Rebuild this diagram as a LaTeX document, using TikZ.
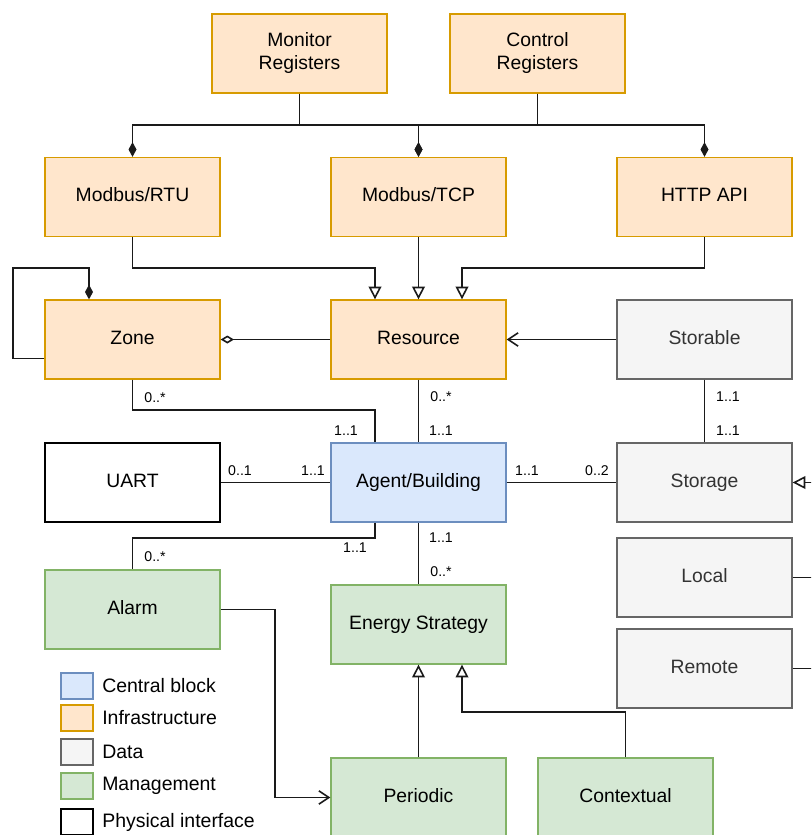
\documentclass[tikz,border=0pt]{standalone}
\usepackage{fontspec}
\setmainfont{Liberation Sans}
\usetikzlibrary{arrows.meta,calc}

\definecolor{infraFill}{HTML}{FFE6CC}\definecolor{infraLine}{HTML}{D79B00}
\definecolor{coreFill}{HTML}{DAE8FC}\definecolor{coreLine}{HTML}{6C8EBF}
\definecolor{dataFill}{HTML}{F5F5F5}\definecolor{dataLine}{HTML}{666666}\definecolor{dataText}{HTML}{333333}
\definecolor{mgmtFill}{HTML}{D5E8D4}\definecolor{mgmtLine}{HTML}{82B366}
\definecolor{wire}{HTML}{1A1A1A}

\begin{document}
\begin{tikzpicture}[x=0.75pt,y=-0.75pt,
  box/.style={rectangle, minimum width=131.25pt, minimum height=59.25pt, inner sep=0pt,
    line width=1pt, align=center, text depth=3.1pt, font=\fontsize{14.5}{17.25}\selectfont},
  infra/.style={box, fill=infraFill, draw=infraLine},
  core/.style={box, fill=coreFill, draw=coreLine},
  datab/.style={box, fill=dataFill, draw=dataLine, text=dataText},
  mgmt/.style={box, fill=mgmtFill, draw=mgmtLine},
  phys/.style={box, fill=white, draw=black},
  conn/.style={draw=wire, line width=1.2pt},
  comp/.style={conn, -{Diamond[length=11pt,width=6pt]}},
  aggr/.style={conn, -{Diamond[open,length=10pt,width=6pt,fill=white]}},
  inh/.style={conn, -{Triangle[open,length=9.5pt,width=9.5pt,fill=white]}},
  nav/.style={conn, -{Straight Barb[length=7.5pt,width=10pt]}},
  mult/.style={font=\fontsize{10.6}{12}\selectfont, inner sep=0pt},
  swatch/.style={rectangle, minimum width=24pt, minimum height=19.5pt, inner sep=0pt, line width=1pt},
  legtext/.style={anchor=west, inner sep=0pt, font=\fontsize{14.6}{17}\selectfont}
]
\path[use as bounding box] (0,0) rectangle (811,835);
\clip (0,0) rectangle (811,835);

% ---- classes ----
\node[infra] (mon) at (299.5,53.5) {Monitor\\Registers};
\node[infra] (ctl) at (537.5,53.5) {Control\\Registers};
\node[infra] (rtu) at (132.5,197) {Modbus/RTU};
\node[infra] (tcp) at (418.5,197) {Modbus/TCP};
\node[infra] (http) at (704.5,197) {HTTP API};
\node[infra] (zone) at (132.5,339.5) {Zone};
\node[infra] (res) at (418.5,339.5) {Resource};
\node[datab] (storable) at (704.5,339.5) {Storable};
\node[phys] (uart) at (132.5,482.5) {UART};
\node[core] (agent) at (418.5,482.5) {Agent/Building};
\node[datab] (storage) at (704.5,482.5) {Storage};
\node[datab] (local) at (704.5,577.5) {Local};
\node[datab] (remote) at (704.5,668.5) {Remote};
\node[mgmt] (alarm) at (132.5,609.5) {Alarm};
\node[mgmt] (energy) at (418.5,624.5) {Energy Strategy};
\node[mgmt] (periodic) at (418.5,797.5) {Periodic};
\node[mgmt] (ctx) at (625.5,797.5) {Contextual};

% ---- attachment points and routing rails ----
\coordinate (busTop) at (0,125);
\coordinate (busMid) at (0,268);
\coordinate (busZone) at (0,410);
\coordinate (busLow) at (0,538);
\coordinate (busCtx) at (0,712);
\coordinate (alarmBend) at (275,0);
\coordinate (loopLeft) at (13,268);
\coordinate (resL) at ([xshift=-32.625pt]res.north);
\coordinate (resR) at ([xshift=32.625pt]res.north);
\coordinate (agentTL) at ([xshift=-32.625pt]agent.north);
\coordinate (agentBL) at ([xshift=-32.625pt]agent.south);
\coordinate (energyR) at ([xshift=32.625pt]energy.south);
\coordinate (zoneOut) at ([yshift=-14.25pt]zone.west);
\coordinate (zoneIn) at ([xshift=-32.625pt]zone.north);
\coordinate (edgeStorage) at (820,482.5);
\coordinate (edgeLocal) at (820,577.5);
\coordinate (edgeRemote) at (820,668.5);

% ---- register composition ----
\draw[comp] (mon.south) |- (rtu.north |- busTop) -- (rtu.north);
\draw[comp] (mon.south) |- (tcp.north |- busTop) -- (tcp.north);
\draw[comp] (ctl.south) |- (tcp.north |- busTop) -- (tcp.north);
\draw[comp] (ctl.south) |- (http.north |- busTop) -- (http.north);

% ---- protocols specialise Resource ----
\draw[inh] (rtu.south) |- (resL |- busMid) -- (resL);
\draw[inh] (tcp.south) -- (res.north);
\draw[inh] (http.south) |- (resR |- busMid) -- (resR);

% ---- zone ----
\draw[comp] (zoneOut) -| (loopLeft) -| (zoneIn);
\draw[aggr] (res.west) -- (zone.east);
\draw[nav] (storable.west) -- (res.east);

% ---- associations of the agent ----
\draw[conn] (zone.south) |- (agentTL |- busZone) -- (agentTL);
\draw[conn] (res.south) -- (agent.north);
\draw[conn] (uart.east) -- (agent.west);
\draw[conn] (agent.east) -- (storage.west);
\draw[conn] (storable.south) -- (storage.north);
\draw[conn] (agentBL) |- (alarm.north |- busLow) -- (alarm.north);
\draw[conn] (agent.south) -- (energy.north);

% ---- management ----
\draw[nav] (alarm.east) -| (alarmBend |- periodic.west) -- (periodic.west);
\draw[inh] (periodic.north) -- (energy.south);
\draw[inh] (ctx.north) |- (energyR |- busCtx) -- (energyR);

% ---- storage specialisations ----
\draw[inh] (edgeStorage) -- (storage.east);
\draw[conn] (local.east) -- (edgeLocal);
\draw[conn] (remote.east) -- (edgeRemote);

% ---- multiplicities ----
\node[mult] (mZone) at (155,398) {0..*};
\node[mult] (mZoneA) at (346,431) {1..1};
\node[mult] (mRes) at (441,397) {0..*};
\node[mult] (mResA) at (441,431) {1..1};
\node[mult] (mUart) at (240,471) {0..1};
\node[mult] (mUartA) at (313,471) {1..1};
\node[mult] (mStoA) at (527,471) {1..1};
\node[mult] (mSto) at (597,471) {0..2};
\node[mult] (mStorable) at (728,397) {1..1};
\node[mult] (mStorage) at (728,431) {1..1};
\node[mult] (mAlarmA) at (355,548) {1..1};
\node[mult] (mAlarm) at (155,557) {0..*};
\node[mult] (mEnergyA) at (441,538) {1..1};
\node[mult] (mEnergy) at (441,572) {0..*};

% ---- legend ----
\node[swatch, fill=coreFill, draw=coreLine] (lgCore) at (77,686) {};
\node[swatch, fill=infraFill, draw=infraLine] (lgInfra) at (77,718) {};
\node[swatch, fill=dataFill, draw=dataLine] (lgData) at (77,752) {};
\node[swatch, fill=mgmtFill, draw=mgmtLine] (lgMgmt) at (77,786) {};
\node[swatch, fill=white, draw=black] (lgPhys) at (77,822) {};
\node[legtext] (tCore) at (102,686) {Central block};
\node[legtext] (tInfra) at (102,718) {Infrastructure};
\node[legtext] (tData) at (102,752) {Data};
\node[legtext] (tMgmt) at (102,786) {Management};
\node[legtext] (tPhys) at (102,822) {Physical interface};
\end{tikzpicture}
\end{document}
